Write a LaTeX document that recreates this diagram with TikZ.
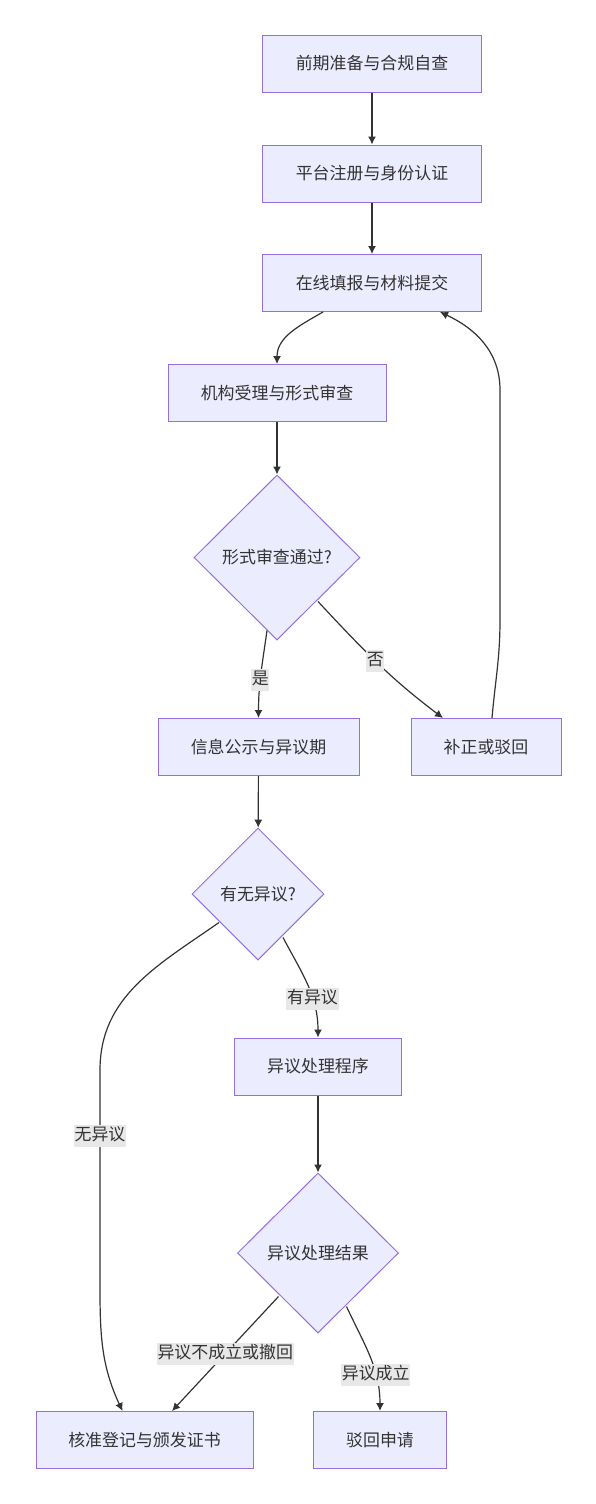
\documentclass[tikz,border=0pt]{standalone}
\usepackage{fontspec}
\setmainfont{Noto Sans CJK SC}
\usetikzlibrary{arrows.meta,positioning,calc,shapes.geometric}
\definecolor{nodefill}{HTML}{ECECFF}
\definecolor{nodeline}{HTML}{9370DB}
\definecolor{ink}{HTML}{333333}
\definecolor{lblbg}{HTML}{E8E8E8}

\begin{document}
\begin{tikzpicture}[x=0.75pt,y=-0.75pt,font=\fontsize{12.7}{15}\selectfont,
  >={Latex[length=6pt,width=6pt]},
  b/.style={draw=nodeline,fill=nodefill,text=ink,line width=0.75pt,minimum height=42.75pt,align=center},
  dm/.style={diamond,draw=nodeline,fill=nodefill,text=ink,line width=0.75pt,inner sep=0pt},
  lb/.style={fill=lblbg,text=ink,inner xsep=0.5pt,inner ysep=2.5pt,text height=0.9em,text depth=0.22em},
  ar/.style={->,draw=ink,line width=0.9pt}]
\useasboundingbox (0,0) rectangle (596,1504);
\node[b,minimum width=164pt] (prep) at (372,63.5) {前期准备与合规自查};
\node[b,minimum width=164pt] (reg) at (372,173.5) {平台注册与身份认证};
\node[b,minimum width=164pt] (fill) at (372,283) {在线填报与材料提交};
\node[b,minimum width=163.5pt] (accept) at (277,393) {机构受理与形式审查};
\node[dm,minimum width=124.5pt,minimum height=123.75pt] (chk) at (277,557.5) {形式审查通过?};
\node[b,minimum width=150.75pt] (pub) at (258.5,747) {信息公示与异议期};
\node[b,minimum width=112.5pt] (fix) at (486,747) {补正或驳回};
\node[dm,minimum width=99pt,minimum height=99pt] (obj) at (258,894) {有无异议?};
\node[b,minimum width=125.25pt] (proc) at (318,1066.5) {异议处理程序};
\node[dm,minimum width=120.75pt,minimum height=120pt] (res) at (318,1253) {异议处理结果};
\node[b,minimum width=162.75pt] (grant) at (144.5,1440) {核准登记与颁发证书};
\node[b,minimum width=99.75pt] (deny) at (380,1440) {驳回申请};
\draw[ar] (prep) -- (reg);
\draw[ar] (reg) -- (fill);
\draw[ar] ($(fill.south)+(-49,0)$) to[out=-150,in=90] (accept.north);
\draw[ar] (accept) -- (chk);
\draw[ar] ($(chk.south)+(-10,-10)$) to[out=-98,in=90] node[lb,pos=0.57]{是} (pub.north);
\draw[ar] ($(chk.south)+(41,-39)$) to[out=-47,in=143] node[lb,pos=0.48]{否} ($(fix.north)+(-43,0)$);
\draw[ar] ($(fix.north)+(6,0)$) to[out=85,in=-90] (500,620) -- (500,390)
      to[out=90,in=-25] ($(fill.south)+(68,0)$);
\draw[ar] (pub) -- (obj);
\draw[ar] ($(obj.south)+(25,-23)$) to[out=-62,in=90] node[lb,pos=0.64]{有异议} (proc.north);
\draw[ar] ($(obj.south)+(-39,-38)$) to[out=-145,in=90] (100,1070)
      -- node[lb,pos=0.3]{无异议} (100,1290) to[out=-90,in=115] ($(grant.north)+(-22,0)$);
\draw[ar] (proc) -- (res);
\draw[ar] ($(res.south)+(-39.5,-37)$) -- node[lb]{异议不成立或撤回} ($(grant.north)+(27.5,0)$);
\draw[ar] ($(res.south)+(28.5,-27)$) to[out=-65,in=90] node[lb,pos=0.68]{异议成立} (deny.north);
\end{tikzpicture}
\end{document}
